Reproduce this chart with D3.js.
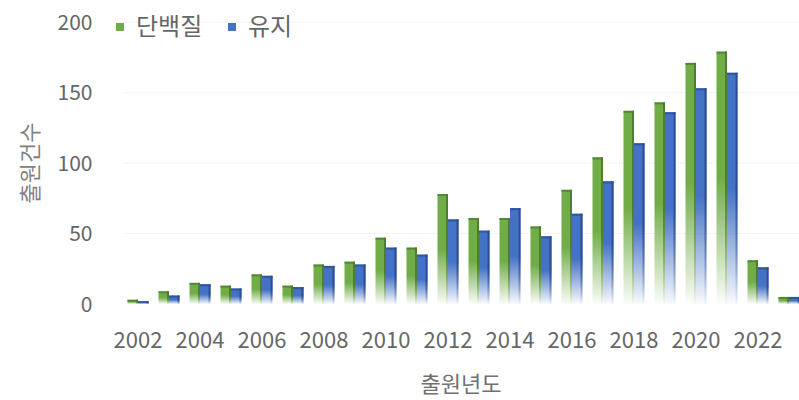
<!DOCTYPE html>
<html>
<head>
<meta charset="utf-8">
<script src="https://cdn.jsdelivr.net/npm/d3@7"></script>
<style>
  html, body { margin: 0; padding: 0; background: #ffffff; }
  svg { display: block; }
  text { font-family: "Noto Sans CJK KR", "Noto Sans", sans-serif; }
</style>
</head>
<body>
<svg id="chart" width="799" height="400"></svg>
<script>
// Patent filings per application year
const years = [2002, 2003, 2004, 2005, 2006, 2007, 2008, 2009, 2010, 2011, 2012,
               2013, 2014, 2015, 2016, 2017, 2018, 2019, 2020, 2021, 2022, 2023];
const protein = [3, 9, 15, 13, 21, 13, 28, 30, 47, 40, 78, 61, 61, 55, 81, 104, 137, 143, 171, 179, 31, 5];
const fat     = [2, 6, 14, 11, 20, 12, 27, 28, 40, 35, 60, 52, 68, 48, 64, 87, 114, 136, 153, 164, 26, 5];
const seriesNames = ["단백질", "유지"];
const yTicks = [0, 50, 100, 150, 200];
const xTickYears = [2002, 2004, 2006, 2008, 2010, 2012, 2014, 2016, 2018, 2020, 2022];
const yTitle = "출원건수";
const xTitle = "출원년도";

const colors = { "단백질": "#70AD47", "유지": "#4472C4" };
const edges  = { "단백질": "#4f7d31", "유지": "#2c4f93" };

const svg = d3.select("#chart");
const margin = { left: 122.5, top: 22, bottom: 304 };

const x = d3.scaleBand().domain(years).range([margin.left, margin.left + 31 * years.length]).padding(0);
const xs = d3.scaleBand().domain(seriesNames).range([x.bandwidth() / 2 - 10.5, x.bandwidth() / 2 + 10.5]).padding(0);
const y = d3.scaleLinear().domain([0, 200]).range([margin.bottom, margin.top]);

// Gradients: solid at the top, fading to white at the base
const defs = svg.append("defs");
seriesNames.forEach((s, i) => {
  const g = defs.append("linearGradient").attr("id", "fill" + i)
    .attr("x1", 0).attr("y1", 0).attr("x2", 0).attr("y2", 1);
  g.append("stop").attr("offset", 0).attr("stop-color", colors[s]);
  g.append("stop").attr("offset", 0.5).attr("stop-color", colors[s]);
  g.append("stop").attr("offset", 1).attr("stop-color", colors[s]).attr("stop-opacity", 0.03);
  const e = defs.append("linearGradient").attr("id", "edge" + i)
    .attr("x1", 0).attr("y1", 0).attr("x2", 0).attr("y2", 1);
  e.append("stop").attr("offset", 0).attr("stop-color", edges[s]);
  e.append("stop").attr("offset", 0.5).attr("stop-color", edges[s]);
  e.append("stop").attr("offset", 1).attr("stop-color", edges[s]).attr("stop-opacity", 0.03);
});

// Faint horizontal gridlines
svg.append("g").selectAll("line").data(yTicks.slice(1)).join("line")
  .attr("x1", margin.left).attr("x2", 799)
  .attr("y1", d => y(d)).attr("y2", d => y(d))
  .attr("stroke", "#f4f4f4").attr("stroke-width", 1);

// Y axis (labels only)
const yAxis = svg.append("g").attr("transform", `translate(${margin.left - 30},0)`)
  .call(d3.axisLeft(y).tickValues(yTicks).tickSize(0).tickPadding(0));
yAxis.select(".domain").remove();
yAxis.selectAll("text").attr("font-size", 21).attr("fill", "#666666")
  .attr("font-family", "'Noto Sans CJK KR', sans-serif").attr("dy", "0.35em");

// X axis (labels only, every second year)
const xAxis = svg.append("g").attr("transform", `translate(0,${margin.bottom})`)
  .call(d3.axisBottom(x).tickValues(xTickYears).tickSize(0).tickPadding(28));
xAxis.select(".domain").remove();
xAxis.selectAll("text").attr("font-size", 22).attr("fill", "#666666")
  .attr("font-family", "'Noto Sans CJK KR', sans-serif");

// Bars
const data = years.map((yr, i) => ({ year: yr, values: [protein[i], fat[i]] }));
const groups = svg.append("g").selectAll("g").data(data).join("g")
  .attr("transform", d => `translate(${x(d.year)},0)`);

seriesNames.forEach((s, si) => {
  const bars = groups.append("g");
  bars.append("rect")
    .attr("x", xs(s)).attr("width", xs.bandwidth())
    .attr("y", d => y(d.values[si])).attr("height", d => y(0) - y(d.values[si]))
    .attr("fill", `url(#fill${si})`);
  bars.append("rect")
    .attr("x", xs(s) + xs.bandwidth() - 2).attr("width", 2)
    .attr("y", d => y(d.values[si])).attr("height", d => y(0) - y(d.values[si]))
    .attr("fill", `url(#edge${si})`);
  bars.append("rect")
    .attr("x", xs(s)).attr("width", xs.bandwidth())
    .attr("y", d => y(d.values[si])).attr("height", d => Math.min(2, y(0) - y(d.values[si])))
    .attr("fill", edges[s]).attr("opacity", 0.8);
});

// Legend
const legend = svg.append("g").attr("transform", "translate(116,27)");
const legendX = [0, 112];
seriesNames.forEach((s, i) => {
  const g = legend.append("g").attr("transform", `translate(${legendX[i]},0)`);
  g.append("rect").attr("x", 0).attr("y", -4).attr("width", 8).attr("height", 8).attr("fill", colors[s]);
  g.append("text").attr("x", 20).attr("y", 0).attr("dy", "0.35em")
    .attr("font-size", 24).attr("fill", "#666666").text(s);
});

// Axis titles
svg.append("text")
  .attr("transform", `translate(30,${(margin.top + margin.bottom) / 2}) rotate(-90)`)
  .attr("text-anchor", "middle").attr("dy", "0.35em")
  .attr("font-size", 22).attr("fill", "#808080").text(yTitle);
svg.append("text")
  .attr("x", 461).attr("y", 384).attr("text-anchor", "middle").attr("dy", "0.35em")
  .attr("font-size", 22).attr("fill", "#707070").text(xTitle);
</script>
</body>
</html>
